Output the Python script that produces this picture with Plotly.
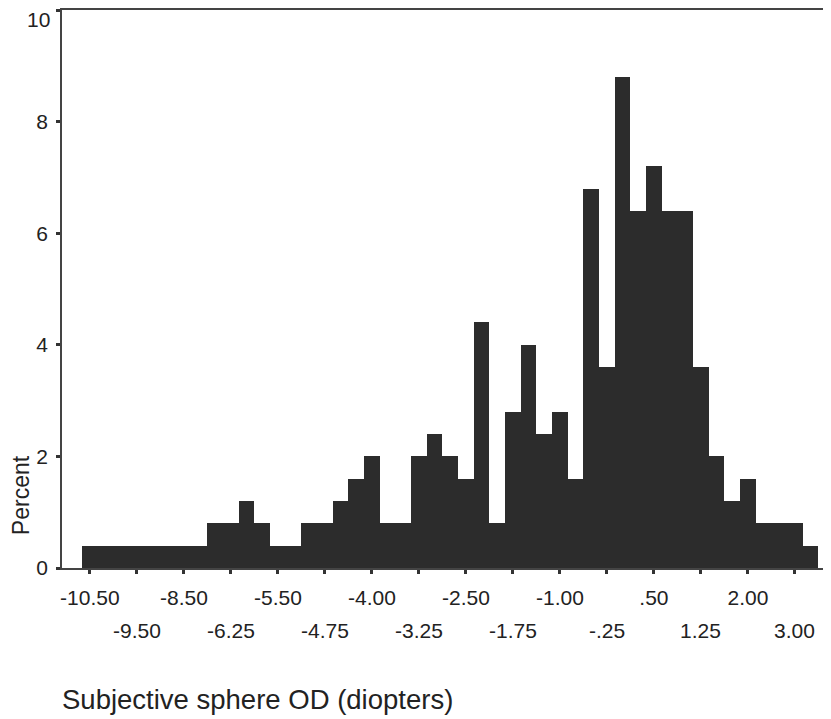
import plotly.graph_objects as go

categories = ["-10.50", "-10.25", "-10.00", "-9.50", "-9.25", "-9.00", "-8.50", "-7.75",
              "-7.00", "-6.25", "-6.00", "-5.75", "-5.50", "-5.25", "-5.00", "-4.75",
              "-4.50", "-4.25", "-4.00", "-3.75", "-3.50", "-3.25", "-3.00", "-2.75",
              "-2.50", "-2.25", "-2.00", "-1.75", "-1.50", "-1.25", "-1.00", "-.75",
              "-.50", "-.25", ".00", ".25", ".50", ".75", "1.00", "1.25",
              "1.50", "1.75", "2.00", "2.25", "2.50", "3.00", "3.50"]

percent = [0.4, 0.4, 0.4, 0.4, 0.4, 0.4, 0.4, 0.4,
           0.8, 0.8, 1.2, 0.8, 0.4, 0.4, 0.8, 0.8,
           1.2, 1.6, 2.0, 0.8, 0.8, 2.0, 2.4, 2.0,
           1.6, 4.4, 0.8, 2.8, 4.0, 2.4, 2.8, 1.6,
           6.8, 3.6, 8.8, 6.4, 7.2, 6.4, 6.4, 3.6,
           2.0, 1.2, 1.6, 0.8, 0.8, 0.8, 0.4]

top_row_labels = ["-10.50", "-8.50", "-5.50", "-4.00", "-2.50", "-1.00", ".50", "2.00"]
bottom_row_labels = ["-9.50", "-6.25", "-4.75", "-3.25", "-1.75", "-.25", "1.25", "3.00"]
y_ticks = [0, 2, 4, 6, 8, 10]

FONT = "Arial, 'Liberation Sans', sans-serif"
INK = "#222222"

tick_vals = []
tick_text = []
for a, b in zip(top_row_labels, bottom_row_labels):
    tick_vals += [a, b]
    tick_text += [a, ""]

# top y label is drawn slightly below its tick (as in the reference)
y_ticktext = [str(v) for v in y_ticks[:-1]] + [""]

fig = go.Figure()
fig.add_trace(go.Bar(
    x=categories, y=percent,
    marker=dict(color="#2c2c2c", line=dict(width=0)),
    hoverinfo="x+y",
))

annotations = []
for lab in bottom_row_labels:
    annotations.append(dict(
        x=categories.index(lab), xref="x", y=0, yref="y", yshift=-62,
        text=lab, showarrow=False, xanchor="center", yanchor="middle",
        font=dict(family=FONT, size=21, color=INK),
    ))
annotations.append(dict(
    x=0, xref="paper", xshift=-10, y=y_ticks[-1], yref="y", yshift=-9,
    text=str(y_ticks[-1]), showarrow=False, xanchor="right", yanchor="middle",
    font=dict(family=FONT, size=21, color=INK),
))
annotations.append(dict(
    x=-0.003, xref="paper", y=-0.235, yref="paper",
    text="Subjective sphere OD (diopters)", showarrow=False,
    xanchor="left", yanchor="middle",
    font=dict(family=FONT, size=27.5, color=INK),
))
annotations.append(dict(
    x=-0.053, xref="paper", y=0.131, yref="paper",
    text="Percent", showarrow=False, textangle=-90,
    xanchor="center", yanchor="middle",
    font=dict(family=FONT, size=23, color=INK),
))

# the page body has a default 8px margin, so the figure is offset by it
fig.update_layout(
    width=823, height=711,
    margin=dict(l=54, r=0, t=2, b=151),
    paper_bgcolor="white", plot_bgcolor="white",
    bargap=0,
    showlegend=False,
    annotations=annotations,
    font=dict(family=FONT, size=21, color=INK),
)
fig.update_xaxes(
    type="category",
    range=[-1.78, 47.3],
    tickmode="array", tickvals=tick_vals, ticktext=tick_text,
    ticks="outside", ticklen=4, tickwidth=3, tickcolor="#333",
    showline=True, linecolor="#444", linewidth=1.5, mirror=True,
    showgrid=False, zeroline=False,
    tickfont=dict(family=FONT, size=21, color=INK),
    ticklabelstandoff=6,
)
fig.update_yaxes(
    range=[0, 10],
    tickmode="array", tickvals=y_ticks, ticktext=y_ticktext,
    ticks="outside", ticklen=4, tickwidth=3, tickcolor="#333",
    showline=True, linecolor="#444", linewidth=1.5,
    showgrid=False, zeroline=False,
    tickfont=dict(family=FONT, size=21, color=INK),
    ticklabelstandoff=4,
)

fig.write_html("out.html")
